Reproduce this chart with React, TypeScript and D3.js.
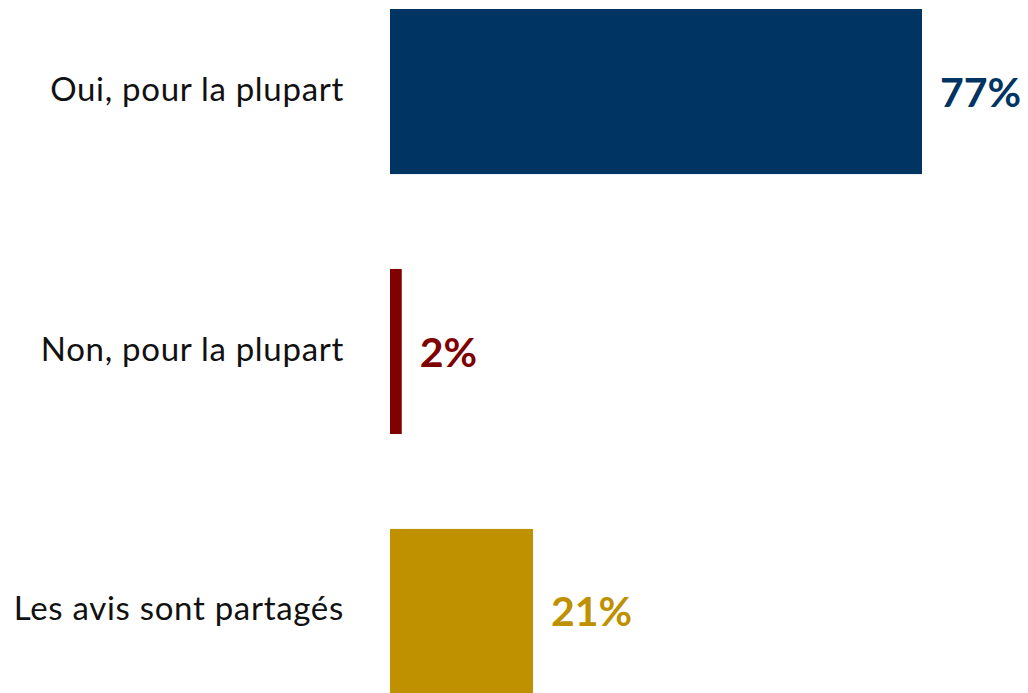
import React, { useEffect, useRef } from 'react';
import * as d3 from 'd3';

const categories = ['Oui, pour la plupart', 'Non, pour la plupart', 'Les avis sont partagés'];
// bar lengths as drawn (labels are rounded)
const values = [77, 1.7, 20.7];
const valueLabels = ['77%', '2%', '21%'];
const colors = ['#003463', '#7f0000', '#bf9000'];

const App = () => {
  const svgRef = useRef<SVGSVGElement>(null);

  useEffect(() => {
    const width = 1028;
    const height = 693;
    const marginLeft = 390;

    const svg = d3.select(svgRef.current);
    svg.selectAll('*').remove();

    const x = d3.scaleLinear()
      .domain([0, 77])
      .range([marginLeft, 922]);

    const y = d3.scaleBand()
      .domain(categories)
      .range([9, 694])
      .paddingInner(0.365)
      .paddingOuter(0);

    const rows = categories.map((c, i) => ({ cat: c, value: values[i], label: valueLabels[i], color: colors[i] }));

    // bars
    svg.append('g')
      .selectAll('rect')
      .data(rows)
      .join('rect')
      .attr('x', x(0))
      .attr('y', (d) => y(d.cat)!)
      .attr('width', (d) => x(d.value) - x(0))
      .attr('height', y.bandwidth())
      .attr('fill', (d) => d.color);

    // category labels
    svg.append('g')
      .selectAll('text')
      .data(rows)
      .join('text')
      .attr('x', 344)
      .attr('y', (d) => y(d.cat)! + y.bandwidth() / 2 + 9)
      .attr('text-anchor', 'end')
      .attr('font-family', 'Lato, sans-serif')
      .attr('font-size', 33)
      .attr('letter-spacing', 0.7)
      .attr('fill', '#111')
      .text((d) => d.cat);

    // value labels
    svg.append('g')
      .selectAll('text')
      .data(rows)
      .join('text')
      .attr('x', (d) => x(d.value) + 18)
      .attr('y', (d) => y(d.cat)! + y.bandwidth() / 2 + 15)
      .attr('font-family', 'Lato, sans-serif')
      .attr('font-weight', 'bold')
      .attr('font-size', 41)
      .attr('fill', (d) => d.color)
      .text((d) => d.label);

    svg.attr('width', width).attr('height', height);
  }, []);

  return (
    <svg
      ref={svgRef}
      style={{ position: 'absolute', left: 0, top: 0, background: '#fff', overflow: 'hidden' }}
    ></svg>
  );
};

export default App;
